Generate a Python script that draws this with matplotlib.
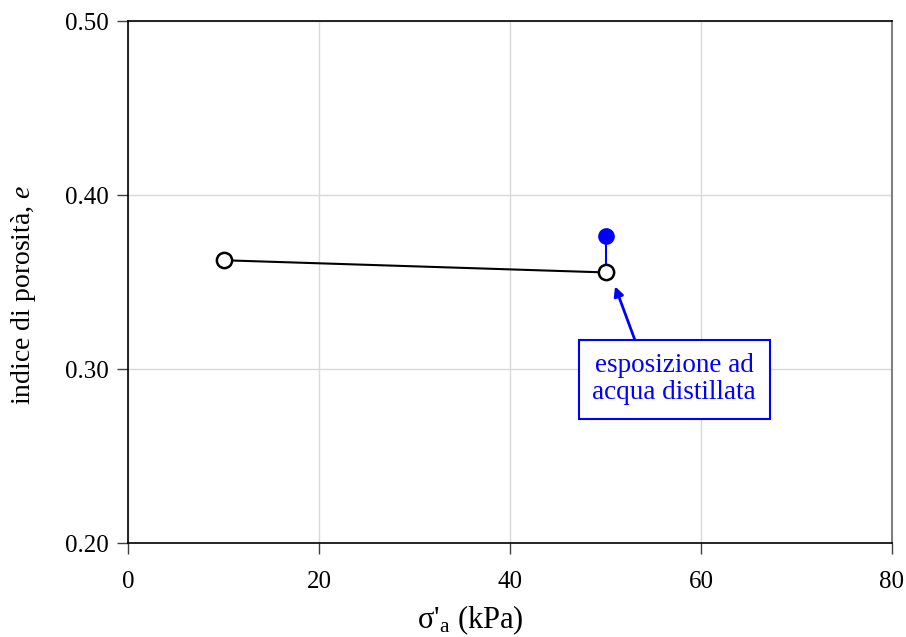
import matplotlib
matplotlib.use("Agg")
import matplotlib.pyplot as plt

plt.rcParams['font.family'] = ['Liberation Serif', 'DejaVu Serif']
plt.rcParams['mathtext.fontset'] = 'custom'
plt.rcParams['mathtext.rm'] = 'Liberation Serif'
plt.rcParams['mathtext.it'] = 'Liberation Serif:italic'

# data
sigma = [10, 50]
e_vals = [0.3625, 0.3555]
sigma_water = [50, 50]
e_water = [0.3555, 0.3765]
xticks = [0, 20, 40, 60, 80]
yticks = [0.20, 0.30, 0.40, 0.50]
note_text = "esposizione ad\nacqua distillata"

fig = plt.figure(figsize=(9.06, 6.37), dpi=100)
ax = fig.add_axes([128/906, 94/637, 764/906, 522/637])

ax.set_xlim(0, 80)
ax.set_ylim(0.20, 0.50)
ax.set_xticks(xticks)
ax.set_yticks(yticks)
ax.set_xticklabels([str(v) for v in xticks])
ax.set_yticklabels([f"{v:.2f}" for v in yticks])
ax.grid(True, color='#d9d9d9', linewidth=1.0)
ax.set_axisbelow(True)

ax.tick_params(direction='out', length=8, width=1.0, labelsize=18, pad=6, color='#404040')
ax.tick_params(axis='x', pad=12.5)
for s in ['left', 'bottom', 'top']:
    ax.spines[s].set_color('black')
    ax.spines[s].set_linewidth(1.2)
ax.spines['right'].set_color('#808080')
ax.spines['right'].set_linewidth(1.5)

ax.plot(sigma_water, e_water, color='#0000ff', linewidth=1.5, zorder=3)
ax.plot(sigma_water[1:], e_water[1:], 'o', color='#0000ff', markersize=11, zorder=4)
ax.plot(sigma, e_vals, '-', color='black', linewidth=1.5, marker='o',
        markersize=11, markerfacecolor='white', markeredgecolor='black',
        markeredgewidth=1.8, zorder=5)

ax.annotate(note_text, xy=(51.0, 0.3475), xytext=(57.2, 0.294),
            ha='center', va='center', fontsize=19.5, color='#0000ff', linespacing=1.1,
            bbox=dict(boxstyle='square,pad=0.5', fc='white', ec='#0000ff', lw=1.5),
            arrowprops=dict(arrowstyle='-|>', color='#0000ff', lw=2,
                            mutation_scale=14, shrinkA=0, shrinkB=0,
                            relpos=(0.29, 1.0)),
            zorder=6)

ax.text(0.448, -0.148, "σ'$_{\\mathrm{a}}$ (kPa)", fontsize=22,
        ha='center', va='center', transform=ax.transAxes)
ax.text(-0.137, 0.475, "indice di porosità, $\\mathit{e}$", fontsize=20,
        ha='center', va='center', rotation=90, transform=ax.transAxes)

fig.savefig("out.png", dpi=100)
